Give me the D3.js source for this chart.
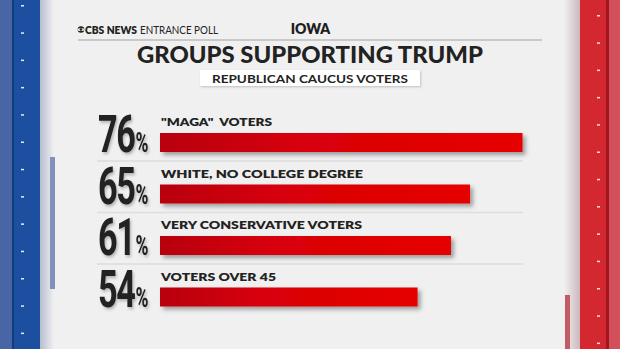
<!DOCTYPE html>
<html>
<head>
<meta charset="utf-8">
<script src="https://cdn.jsdelivr.net/npm/d3@7"></script>
<style>
  body { margin: 0; background: #f0f0f0; }
  svg { display: block; }
</style>
</head>
<body>
<div id="chart"></div>
<script>
// Chart data
const categories = ['"MAGA"  VOTERS', 'WHITE, NO COLLEGE DEGREE', 'VERY CONSERVATIVE VOTERS', 'VOTERS OVER 45'];
const values = [76, 65, 61, 54];
const headerState = 'IOWA';
const headerBrand = 'CBS NEWS';
const headerPoll = 'ENTRANCE POLL';
const titleText = 'GROUPS SUPPORTING TRUMP';
const subtitleText = 'REPUBLICAN CAUCUS VOTERS';

const width = 620;
const height = 349;
const labelFont = 'Lato, "Noto Sans", sans-serif';

const svg = d3.select('#chart').append('svg')
  .attr('width', width)
  .attr('height', height);

const defs = svg.append('defs');

// Red bar gradient, dark on the left
const barGrad = defs.append('linearGradient').attr('id', 'barGrad');
barGrad.append('stop').attr('offset', '0%').attr('stop-color', '#b8000f');
barGrad.append('stop').attr('offset', '40%').attr('stop-color', '#d80008');
barGrad.append('stop').attr('offset', '100%').attr('stop-color', '#e60000');

const shadow = defs.append('filter').attr('id', 'shadow')
  .attr('x', '-5%').attr('y', '-30%').attr('width', '115%').attr('height', '190%');
shadow.append('feDropShadow').attr('dx', 3).attr('dy', 3).attr('stdDeviation', 2)
  .attr('flood-color', '#000').attr('flood-opacity', 0.35);

const numShadow = defs.append('filter').attr('id', 'numShadow');
numShadow.append('feDropShadow').attr('dx', 1.5).attr('dy', 1.5).attr('stdDeviation', 1)
  .attr('flood-color', '#000').attr('flood-opacity', 0.25);

const boxShadow = defs.append('filter').attr('id', 'boxShadow')
  .attr('x', '-5%').attr('y', '-30%').attr('width', '115%').attr('height', '190%');
boxShadow.append('feDropShadow').attr('dx', 1).attr('dy', 1).attr('stdDeviation', 1)
  .attr('flood-color', '#000').attr('flood-opacity', 0.2);

const leftPanel = defs.append('linearGradient').attr('id', 'leftEdge');
leftPanel.append('stop').attr('offset', '0%').attr('stop-color', '#b8bdd0');
leftPanel.append('stop').attr('offset', '100%').attr('stop-color', '#f0f0f0');
const rightPanel = defs.append('linearGradient').attr('id', 'rightEdge');
rightPanel.append('stop').attr('offset', '0%').attr('stop-color', '#f0f0f0');
rightPanel.append('stop').attr('offset', '100%').attr('stop-color', '#cdb8bc');

// Background
svg.append('rect').attr('width', width).attr('height', height).attr('fill', '#f0f0f0');

// Side decorations: blue on the left, red on the right
svg.append('rect').attr('x', 40).attr('y', 0).attr('width', 14).attr('height', height).attr('fill', 'url(#leftEdge)');
svg.append('rect').attr('x', 0).attr('y', 0).attr('width', 13).attr('height', height).attr('fill', '#4866a6');
svg.append('rect').attr('x', 13).attr('y', 0).attr('width', 27).attr('height', height).attr('fill', '#1c4f9f');
svg.append('rect').attr('x', 12).attr('y', 0).attr('width', 2).attr('height', height).attr('fill', '#143c7c');
svg.append('rect').attr('x', 50).attr('y', 157).attr('width', 5).attr('height', 132).attr('fill', '#8290bb');

svg.append('rect').attr('x', 564).attr('y', 0).attr('width', 16).attr('height', height).attr('fill', 'url(#rightEdge)');
svg.append('rect').attr('x', 580).attr('y', 0).attr('width', 28).attr('height', height).attr('fill', '#d3282f');
svg.append('rect').attr('x', 606).attr('y', 0).attr('width', 3).attr('height', height).attr('fill', '#a51520');
svg.append('rect').attr('x', 609).attr('y', 0).attr('width', 11).attr('height', height).attr('fill', '#d25059');
svg.append('rect').attr('x', 565).attr('y', 295).attr('width', 5).attr('height', 54).attr('fill', '#c45a66');

svg.append('g').selectAll('rect')
  .data(d3.range(5, height, 27.3))
  .join('rect')
  .attr('x', 21).attr('y', (d) => d).attr('width', 3).attr('height', 1.5)
  .attr('fill', '#e8ecf5');
svg.append('g').selectAll('rect')
  .data(d3.range(15, height, 27.3))
  .join('rect')
  .attr('x', 597).attr('y', (d) => d).attr('width', 3).attr('height', 1.5)
  .attr('fill', '#f5e0e0');

// Header
const logo = svg.append('g').attr('transform', 'translate(81,29.5)');
logo.append('ellipse').attr('rx', 3.3).attr('ry', 3.3).attr('fill', '#222');
logo.append('ellipse').attr('rx', 3.3).attr('ry', 1.6).attr('fill', '#f0f0f0');
logo.append('circle').attr('r', 1.3).attr('fill', '#222');

svg.append('text')
  .attr('x', 85).attr('y', 33.5)
  .attr('textLength', 52).attr('lengthAdjust', 'spacingAndGlyphs')
  .attr('font-family', labelFont)
  .attr('font-weight', 800)
  .attr('font-size', 10.5)
  .attr('fill', '#222')
  .text(headerBrand);
svg.append('text')
  .attr('x', 140).attr('y', 33.5)
  .attr('textLength', 78).attr('lengthAdjust', 'spacingAndGlyphs')
  .attr('font-family', labelFont)
  .attr('font-weight', 400)
  .attr('font-size', 10.5)
  .attr('fill', '#222')
  .text(headerPoll);

svg.append('text')
  .attr('x', 310.5).attr('y', 34)
  .attr('text-anchor', 'middle')
  .attr('font-family', labelFont)
  .attr('font-weight', 800)
  .attr('font-size', 14)
  .attr('fill', '#1e1e1e')
  .text(headerState);

svg.append('line')
  .attr('x1', 78).attr('x2', 542).attr('y1', 40).attr('y2', 40)
  .attr('stroke', '#bdbdbd').attr('stroke-width', 1.5);

svg.append('text')
  .attr('x', 137).attr('y', 63)
  .attr('textLength', 346).attr('lengthAdjust', 'spacingAndGlyphs')
  .attr('font-family', labelFont)
  .attr('font-weight', 900)
  .attr('font-size', 22.5)
  .attr('fill', '#222')
  .text(titleText);

svg.append('rect')
  .attr('x', 200).attr('y', 70).attr('width', 220).attr('height', 16)
  .attr('fill', '#fff').attr('filter', 'url(#boxShadow)');
svg.append('text')
  .attr('x', 212).attr('y', 82.5)
  .attr('textLength', 196).attr('lengthAdjust', 'spacingAndGlyphs')
  .attr('font-family', labelFont)
  .attr('font-weight', 700)
  .attr('font-size', 12)
  .attr('fill', '#222')
  .text(subtitleText);

// Scales
const x = d3.scaleLinear().domain([0, 100]).range([160, 637]);
const y = d3.scaleBand().domain(categories).range([109.5, 315.5]);

// Separators between rows
svg.append('g').selectAll('line')
  .data(categories.slice(1))
  .join('line')
  .attr('x1', 97).attr('x2', 523)
  .attr('y1', (d) => y(d)).attr('y2', (d) => y(d))
  .attr('stroke', '#dddddd').attr('stroke-width', 1.5);

const rows = svg.append('g').selectAll('g')
  .data(categories.map((c, i) => ({ label: c, value: values[i] })))
  .join('g')
  .attr('transform', (d) => `translate(0,${y(d.label)})`);

// Bars
rows.append('rect')
  .attr('x', x(0))
  .attr('y', 23.5)
  .attr('width', (d) => x(d.value) - x(0))
  .attr('height', 19)
  .attr('fill', 'url(#barGrad)')
  .attr('filter', 'url(#shadow)');

// Category labels
const labelWidths = [111, 202, 201, 115];
rows.append('text')
  .attr('x', 161)
  .attr('y', 16.5)
  .attr('textLength', (d, i) => labelWidths[i])
  .attr('lengthAdjust', 'spacingAndGlyphs')
  .style('white-space', 'pre')
  .attr('font-family', labelFont)
  .attr('font-weight', 800)
  .attr('font-size', 12)
  .attr('fill', '#222')
  .text((d) => d.label);

// Big percentages: smaller font stretched tall so the text boxes stay inside each row
const nums = rows.append('g')
  .attr('filter', 'url(#numShadow)')
  .attr('transform', 'translate(98,42.5) scale(0.9,1.37)');
nums.append('text')
  .attr('x', 0).attr('y', 0)
  .attr('font-family', 'Roboto, sans-serif')
  .attr('font-weight', 700)
  .attr('font-size', 38)
  .attr('letter-spacing', -1.5)
  .attr('fill', '#222')
  .text((d) => d.value)
  .each(function () {
    const w = this.getComputedTextLength();
    d3.select(this.parentNode).append('text')
      .attr('x', w + 1).attr('y', 0)
      .attr('font-family', 'Roboto, sans-serif')
      .attr('font-weight', 700)
      .attr('font-size', 19.5)
      .attr('fill', '#222')
      .text('%');
  });
</script>
</body>
</html>
